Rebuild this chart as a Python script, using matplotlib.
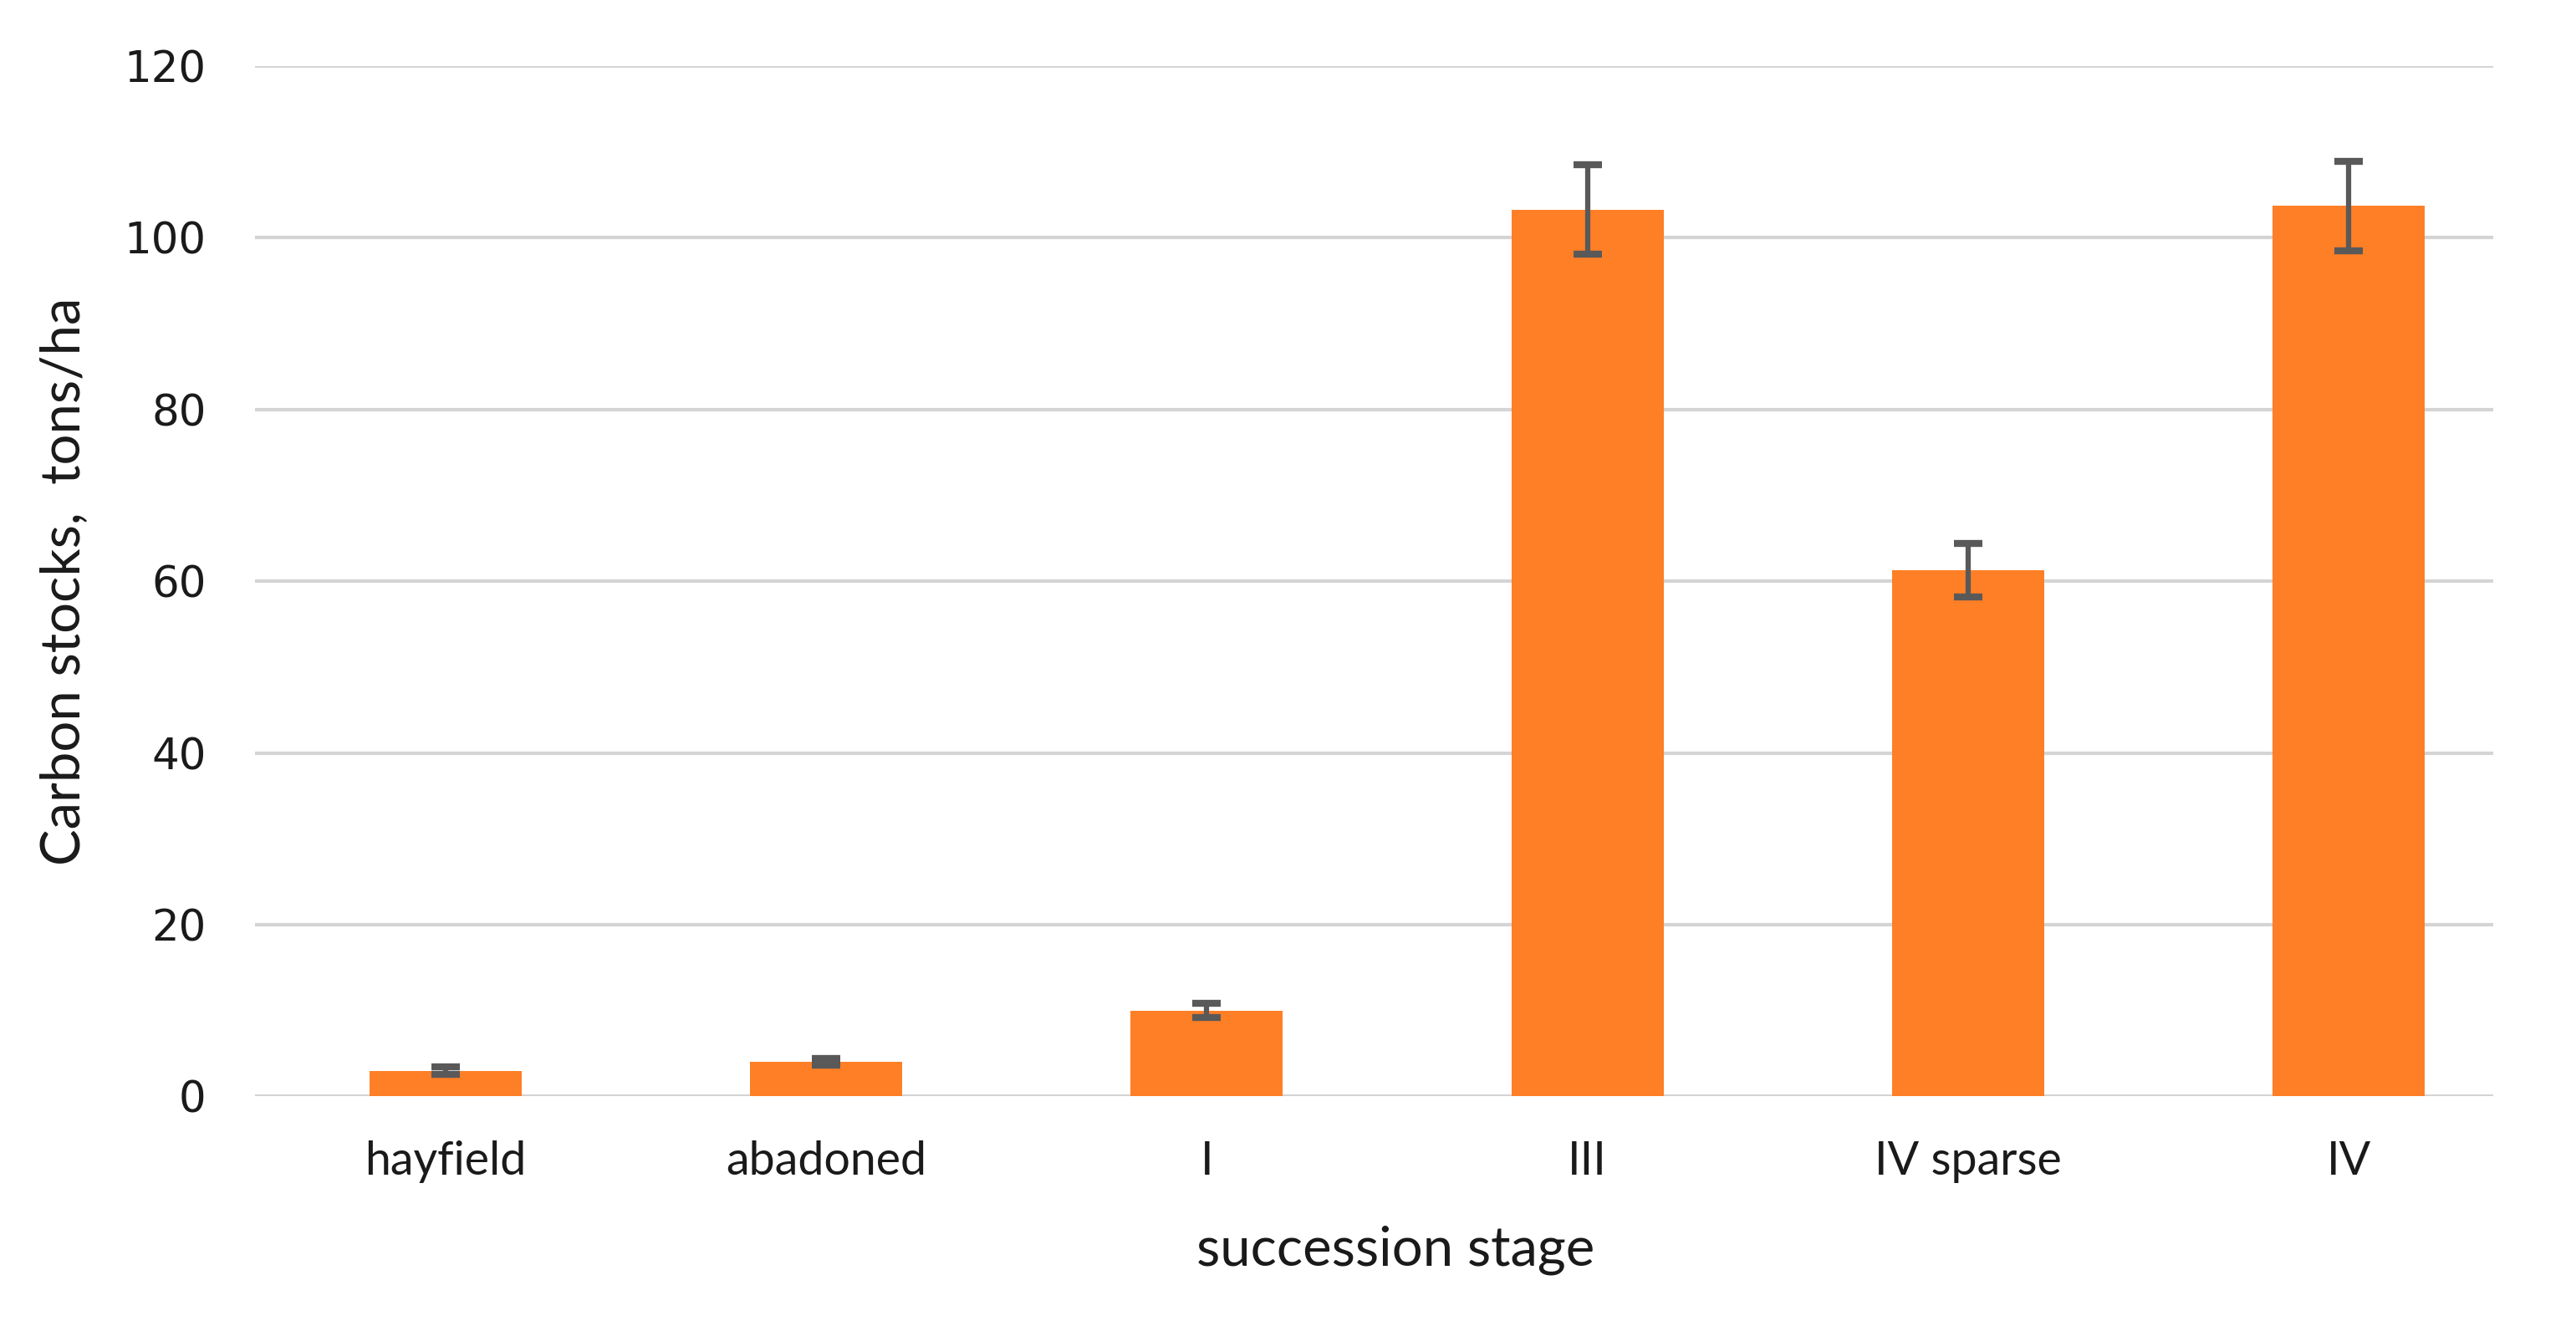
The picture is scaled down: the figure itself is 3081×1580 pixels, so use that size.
import matplotlib.pyplot as plt

stages = ["hayfield", "abadoned", "I", "III", "IV sparse", "IV"]
carbon = [3.0, 4.0, 10.0, 103.3, 61.3, 103.7]
errors = [0.4, 0.4, 0.8, 5.2, 3.1, 5.2]

bar_color = "#FE7F26"
err_color = "#595959"
grid_color = "#D4D4D4"
text_color = "#1A1A1A"

fig = plt.figure(figsize=(30.81, 15.8), dpi=100)
ax = fig.add_axes([0.099, 0.170, 0.869, 0.780])

x = range(len(stages))
ax.bar(x, carbon, width=0.4, color=bar_color, zorder=2)
ax.errorbar(x, carbon, yerr=errors, fmt="none", ecolor=err_color,
            elinewidth=4.5, capsize=12, capthick=6, zorder=3)

ax.set_ylim(0, 120)
ax.set_xlim(-0.5, 5.38)
ax.set_yticks(range(0, 121, 20))
ax.set_xticks(list(x))
ax.set_xticklabels(stages, fontfamily="Lato", fontsize=40, color=text_color)
for lab in ax.get_yticklabels():
    lab.set_fontfamily("DejaVu Sans")
    lab.set_fontsize(37)
    lab.set_color(text_color)

ax.yaxis.grid(True, color=grid_color, linewidth=3, zorder=0)
ax.set_axisbelow(True)
for s in ax.spines.values():
    s.set_visible(False)
ax.tick_params(axis="both", length=0)
ax.tick_params(axis="y", pad=42)
ax.tick_params(axis="x", pad=38)

ax.set_xlabel("succession stage", fontfamily="Lato", fontsize=47,
              color=text_color)
ax.xaxis.set_label_coords(0.5095, -0.125)
ax.set_ylabel("Carbon stocks,  tons/ha", fontfamily="Lato", fontsize=47,
              labelpad=31, color=text_color)

plt.savefig("out.png", dpi=100)
plt.close()
